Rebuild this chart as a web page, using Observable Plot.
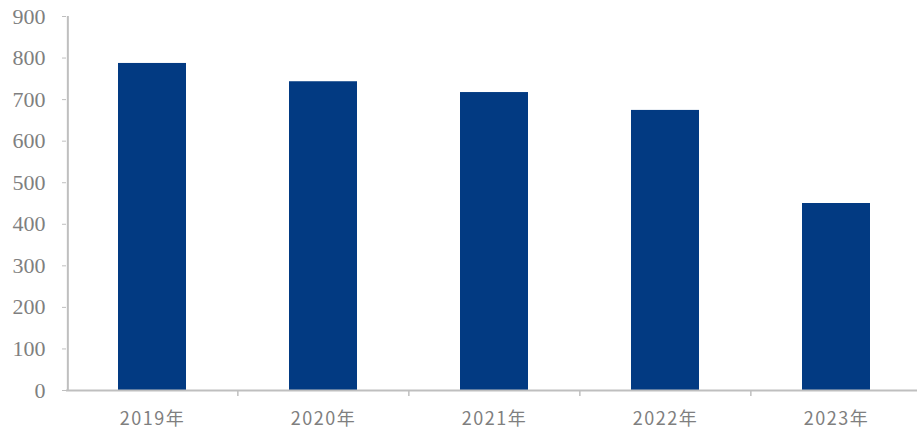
<!DOCTYPE html>
<html><head><meta charset="utf-8">
<script src="https://cdn.jsdelivr.net/npm/d3@7"></script>
<script src="https://cdn.jsdelivr.net/npm/@observablehq/plot@0.6"></script>
<style>body{margin:0;background:#fff;overflow:hidden;} svg{display:block;overflow:visible;}</style>
</head><body><div id="chart"></div>
<script>
const years = ["2019年","2020年","2021年","2022年","2023年"];
const values = [787, 743, 717, 674, 450];
const yTicks = [0,100,200,300,400,500,600,700,800,900];

const data = years.map((y,i)=>({year:y, value:values[i]}));
const W = 917, H = 432, ML = 66, MR = -5.5;
const step = (W - ML - MR) / years.length;

const chart = Plot.plot({
  width: W, height: H,
  marginLeft: ML, marginRight: MR, marginTop: 16, marginBottom: 42,
  style: {background: "#fff"},
  x: {type: "band", domain: years, paddingInner: 0.6, paddingOuter: 0.3, label: null},
  y: {type: "linear", domain: [0, 900], label: null},
  marks: [
    Plot.barY(data, {x: "year", y: "value", fill: "#023a82"}),
    Plot.axisY({ticks: yTicks, tickSize: 4, tickPadding: 17, stroke: "#bfbfbf", fill: "#7f7f7f",
      fontSize: 22, fontFamily: "Liberation Serif, Times New Roman, serif", label: null}),
    Plot.ruleY([0], {stroke: "#bfbfbf", strokeWidth: 2}),
    Plot.ruleX([years[0]], {x: d => d, dx: -step/2 + 1, y1: 0, y2: 900, stroke: "#bfbfbf", strokeWidth: 2}),
    Plot.ruleX(years.slice(1), {x: d => d, dx: -step/2, y1: 0, y2: 0, insetBottom: -6, stroke: "#bfbfbf", strokeWidth: 1.5}),
    Plot.axisX({tickSize: 0, tickPadding: 22, fill: "#7f7f7f", fontSize: 18,
      fontFamily: "Noto Sans CJK SC, Noto Sans, sans-serif", label: null})
  ]
});
d3.select(chart).selectAll('g[aria-label="x-axis tick label"] text').style("letter-spacing", "1.5px");
document.getElementById("chart").append(chart);
</script></body></html>
